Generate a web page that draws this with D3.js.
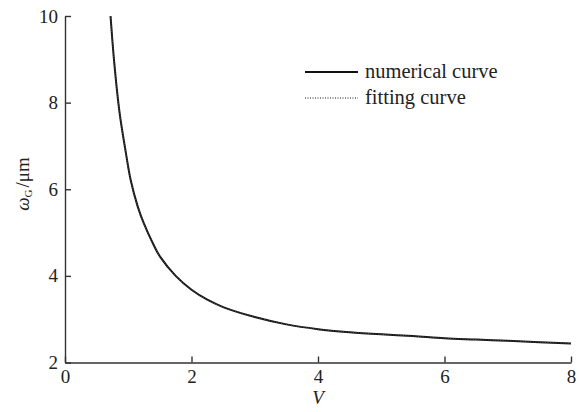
<!DOCTYPE html>
<html>
<head>
<meta charset="utf-8">
<script src="https://cdn.jsdelivr.net/npm/d3@7"></script>
<style>
  body { margin: 0; background: #fff; }
  .axis path, .axis line { stroke: #333; stroke-width: 1.4; }
</style>
</head>
<body>
<div class="svg-wrapper"></div>
<script>
// values
const vValues = [0.72, 0.78, 0.86, 0.95, 1.04, 1.15, 1.25, 1.4, 1.5, 1.75, 2.0, 2.25, 2.5,
                 3.0, 3.5, 4.0, 4.5, 5.0, 5.5, 6.0, 6.5, 7.0, 7.5, 8.0];
const numericalW = [10.0, 8.9, 7.8, 6.95, 6.2, 5.6, 5.2, 4.72, 4.45, 4.0, 3.68, 3.45, 3.28,
                    3.05, 2.88, 2.77, 2.70, 2.65, 2.61, 2.56, 2.53, 2.50, 2.47, 2.44];
const fittingW = [10.0, 8.9, 7.8, 6.95, 6.2, 5.6, 5.2, 4.72, 4.45, 4.0, 3.68, 3.45, 3.28,
                  3.05, 2.88, 2.77, 2.70, 2.65, 2.61, 2.56, 2.53, 2.50, 2.47, 2.44];
const xTicks = [0, 2, 4, 6, 8];
const yTicks = [2, 4, 6, 8, 10];
const legendLabels = ["numerical curve", "fitting curve"];

const FONT = "'Liberation Serif', 'DejaVu Serif', serif";
const width = 579, height = 412;
const margin = {top: 16, right: 8, bottom: 50, left: 65};
const innerWidth = 571 - margin.left;
const innerHeight = 362.5 - margin.top;

const svg = d3.select(".svg-wrapper")
  .append("svg")
  .attr("width", width)
  .attr("height", height)
  .style("display", "block");

const g = svg.append("g")
  .attr("transform", `translate(${margin.left},${margin.top})`);

const xScale = d3.scaleLinear().domain([0, 8]).range([0, innerWidth]);
const yScale = d3.scaleLinear().domain([2, 10]).range([innerHeight, 0]);

const xAxis = d3.axisBottom(xScale)
  .tickValues(xTicks)
  .tickSizeInner(-6)
  .tickSizeOuter(0)
  .tickPadding(7);

const yAxis = d3.axisLeft(yScale)
  .tickValues(yTicks)
  .tickSizeInner(-6)
  .tickSizeOuter(0)
  .tickPadding(7);

const yAxisG = g.append("g").attr("class", "axis").call(yAxis)
  .attr("font-family", FONT).attr("font-size", 19);
yAxisG.selectAll(".tick text").attr("fill", "#222");

const xAxisG = g.append("g").attr("class", "axis")
  .attr("transform", `translate(0,${innerHeight})`)
  .call(xAxis)
  .attr("font-family", FONT).attr("font-size", 19);
xAxisG.selectAll(".tick text").attr("fill", "#222");

// axis labels
g.append("text")
  .attr("x", xScale(4))
  .attr("y", innerHeight + 41)
  .attr("text-anchor", "middle")
  .attr("font-family", FONT)
  .attr("font-size", 19)
  .attr("fill", "#222")
  .style("font-style", "italic")
  .text("V");

const yLab = svg.append("text")
  .attr("transform", "translate(29,184) rotate(-90)")
  .attr("text-anchor", "middle")
  .attr("font-family", FONT)
  .attr("font-size", 19)
  .attr("fill", "#222");
yLab.append("tspan").style("font-style", "italic").text("ω");
yLab.append("tspan").attr("dy", 3).attr("font-size", 11).text("G");
yLab.append("tspan").attr("dy", -3).attr("dx", 2).text("/μm");

// curves
const pts = (ys) => vValues.map((v, i) => [v, ys[i]]);
const line = d3.line()
  .x(d => xScale(d[0]))
  .y(d => yScale(d[1]))
  .curve(d3.curveCatmullRom.alpha(0.5));

g.append("path")
  .attr("d", line(pts(numericalW)))
  .attr("fill", "none")
  .attr("stroke", "#111")
  .attr("stroke-width", 2);

g.append("path")
  .attr("d", line(pts(fittingW)))
  .attr("fill", "none")
  .attr("stroke", "#555")
  .attr("stroke-width", 1)
  .attr("stroke-dasharray", "1,1.5");

// legend
const legend = svg.append("g");
legendLabels.forEach(function(label, i) {
  const y = 72 + i * 26;
  legend.append("line")
    .attr("x1", 305).attr("x2", 358)
    .attr("y1", y).attr("y2", y)
    .attr("stroke", "#111")
    .attr("stroke-width", i === 0 ? 2 : 1)
    .attr("stroke-dasharray", i === 0 ? null : "1,1.5");
  legend.append("text")
    .attr("x", 365)
    .attr("y", y + 6)
    .attr("font-family", FONT)
    .attr("font-size", 20.5)
    .attr("fill", "#222")
    .text(label);
});
</script>
</body>
</html>
